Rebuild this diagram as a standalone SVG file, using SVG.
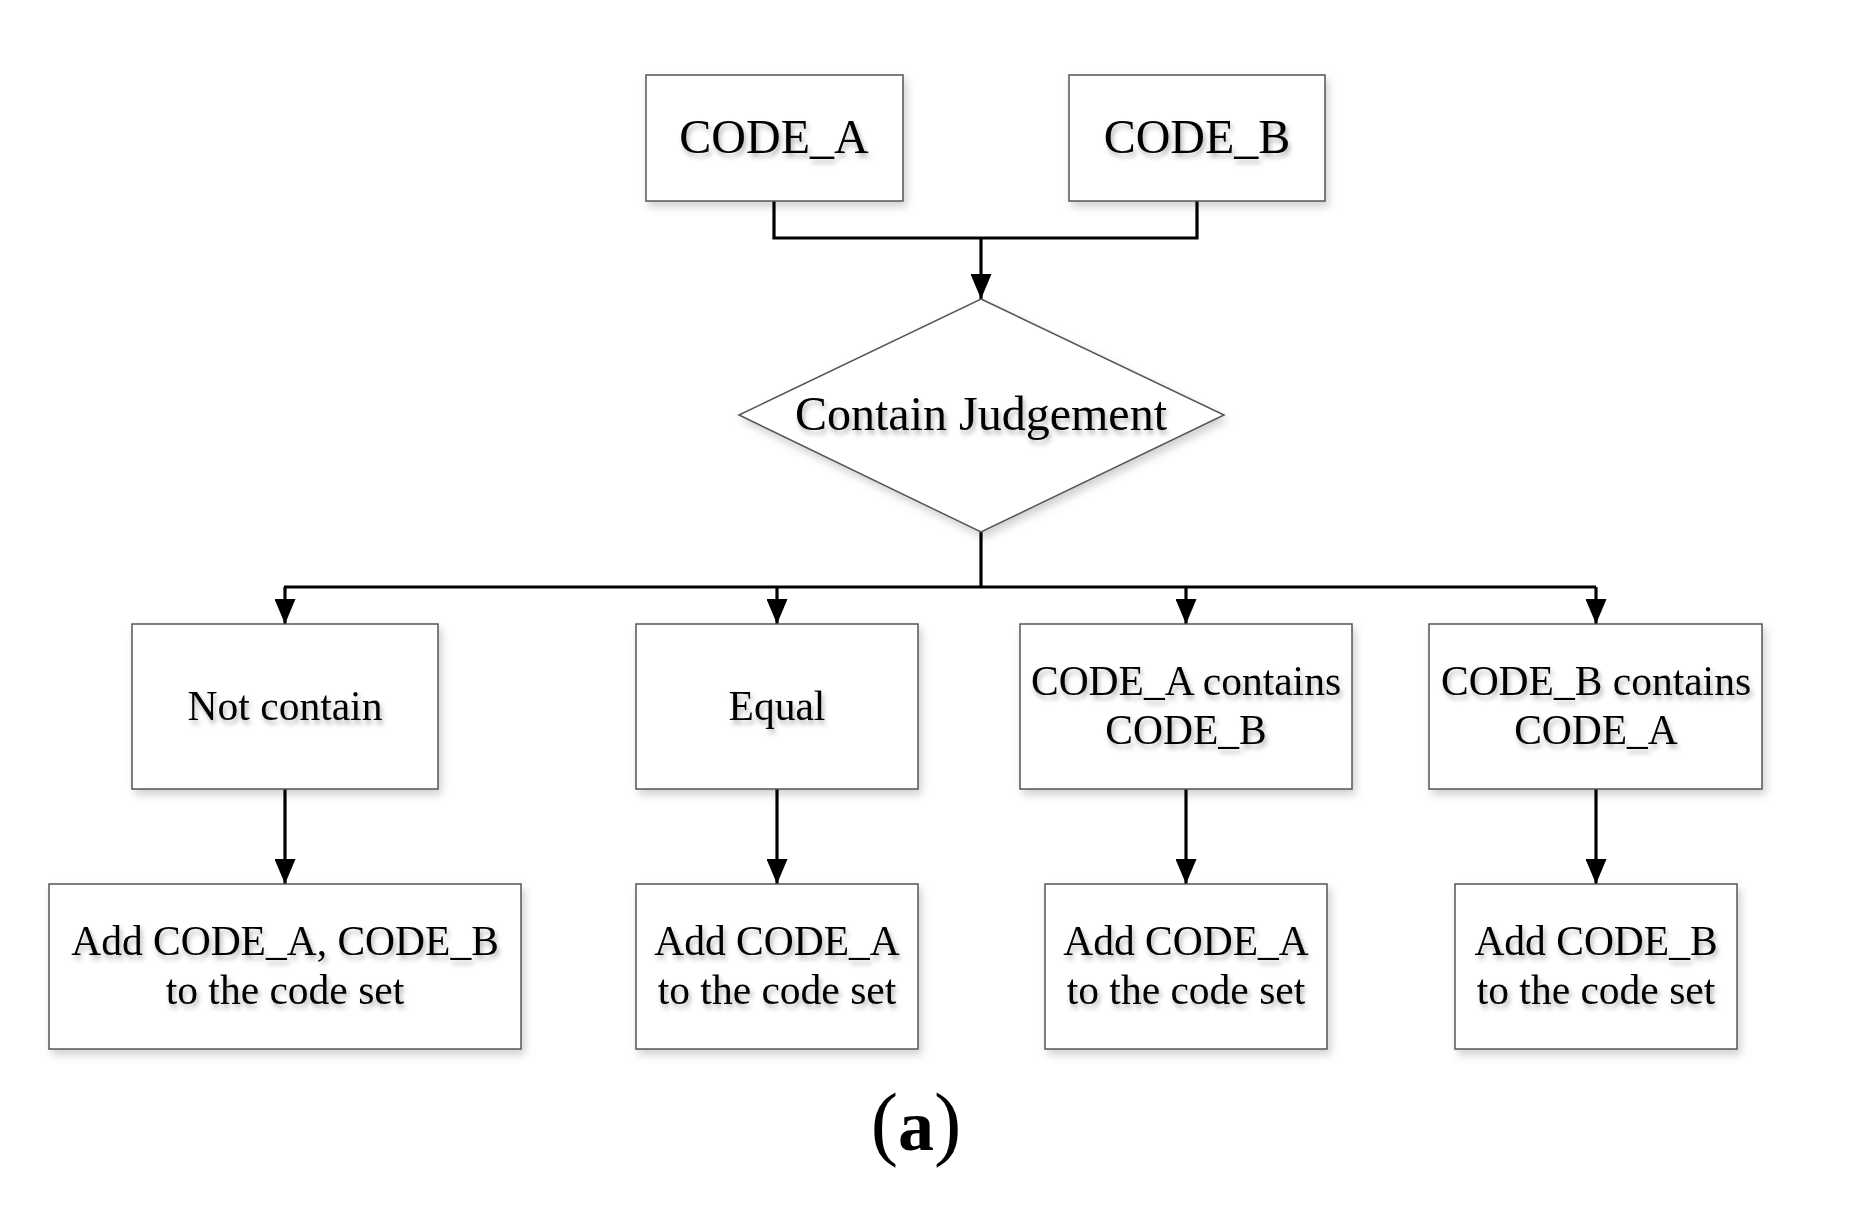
<svg xmlns="http://www.w3.org/2000/svg" width="1858" height="1217" viewBox="0 0 1858 1217">
<defs>
<filter id="sh" x="-10%" y="-10%" width="130%" height="140%">
<feDropShadow dx="3" dy="5" stdDeviation="4" flood-color="#000" flood-opacity="0.18"/>
</filter>
<filter id="tsh" x="-10%" y="-20%" width="130%" height="160%">
<feDropShadow dx="2" dy="4" stdDeviation="2.5" flood-color="#000" flood-opacity="0.3"/>
</filter>
<marker id="arr" viewBox="0 0 25 21" refX="25" refY="10.5" markerWidth="25" markerHeight="21" markerUnits="userSpaceOnUse" orient="auto">
<path d="M0,0 L25,10.5 L0,21 Z" fill="#000"/>
</marker>
</defs>
<style>
.box{fill:#fff;stroke:#555;stroke-width:1.5;filter:url(#sh)}
.t{font-family:"Liberation Serif","Times New Roman",serif;fill:#000;text-anchor:middle;filter:url(#tsh)}
.big{font-size:48px}
.mid{font-size:41.5px}
.c{fill:none;stroke:#000;stroke-width:3.2}
</style>
<rect width="1858" height="1217" fill="#fff"/>
<g id="connectors">
<path class="c" d="M774,201 V238 H1197 V201"/>
<path class="c" d="M981,238 V299" marker-end="url(#arr)"/>
<path class="c" d="M981,532 V587"/>
<path class="c" d="M284,587 H1596"/>
<path class="c" d="M285,587 V624" marker-end="url(#arr)"/>
<path class="c" d="M777,587 V624" marker-end="url(#arr)"/>
<path class="c" d="M1186,587 V624" marker-end="url(#arr)"/>
<path class="c" d="M1596,587 V624" marker-end="url(#arr)"/>
<path class="c" d="M285,789 V884" marker-end="url(#arr)"/>
<path class="c" d="M777,789 V884" marker-end="url(#arr)"/>
<path class="c" d="M1186,789 V884" marker-end="url(#arr)"/>
<path class="c" d="M1596,789 V884" marker-end="url(#arr)"/>
</g>
<g id="codeA">
<rect class="box" x="646" y="75" width="257" height="126"/>
<text class="t big" x="774" y="153">CODE_A</text>
</g>
<g id="codeB">
<rect class="box" x="1069" y="75" width="256" height="126"/>
<text class="t big" x="1197" y="153">CODE_B</text>
</g>
<g id="judge">
<polygon class="box" points="981,299 1224,415 981,532 739,415"/>
<text class="t big" x="981" y="430">Contain Judgement</text>
</g>
<g id="notContain">
<rect class="box" x="132" y="624" width="306" height="165"/>
<text class="t mid" x="285" y="720">Not contain</text>
</g>
<g id="equal">
<rect class="box" x="636" y="624" width="282" height="165"/>
<text class="t mid" x="777" y="720">Equal</text>
</g>
<g id="aContainsB">
<rect class="box" x="1020" y="624" width="332" height="165"/>
<text class="t mid" x="1186" y="695">CODE_A contains</text>
<text class="t mid" x="1186" y="744">CODE_B</text>
</g>
<g id="bContainsA">
<rect class="box" x="1429" y="624" width="333" height="165"/>
<text class="t mid" x="1596" y="695">CODE_B contains</text>
<text class="t mid" x="1596" y="744">CODE_A</text>
</g>
<g id="addAB">
<rect class="box" x="49" y="884" width="472" height="165"/>
<text class="t mid" x="285" y="955">Add CODE_A, CODE_B</text>
<text class="t mid" x="285" y="1004">to the code set</text>
</g>
<g id="addA1">
<rect class="box" x="636" y="884" width="282" height="165"/>
<text class="t mid" x="777" y="955">Add CODE_A</text>
<text class="t mid" x="777" y="1004">to the code set</text>
</g>
<g id="addA2">
<rect class="box" x="1045" y="884" width="282" height="165"/>
<text class="t mid" x="1186" y="955">Add CODE_A</text>
<text class="t mid" x="1186" y="1004">to the code set</text>
</g>
<g id="addB">
<rect class="box" x="1455" y="884" width="282" height="165"/>
<text class="t mid" x="1596" y="955">Add CODE_B</text>
<text class="t mid" x="1596" y="1004">to the code set</text>
</g>
<text x="916" y="1150" font-family="Liberation Serif, serif" font-size="82" text-anchor="middle" fill="#000">(<tspan font-weight="bold" font-size="72">a</tspan>)</text>
</svg>
